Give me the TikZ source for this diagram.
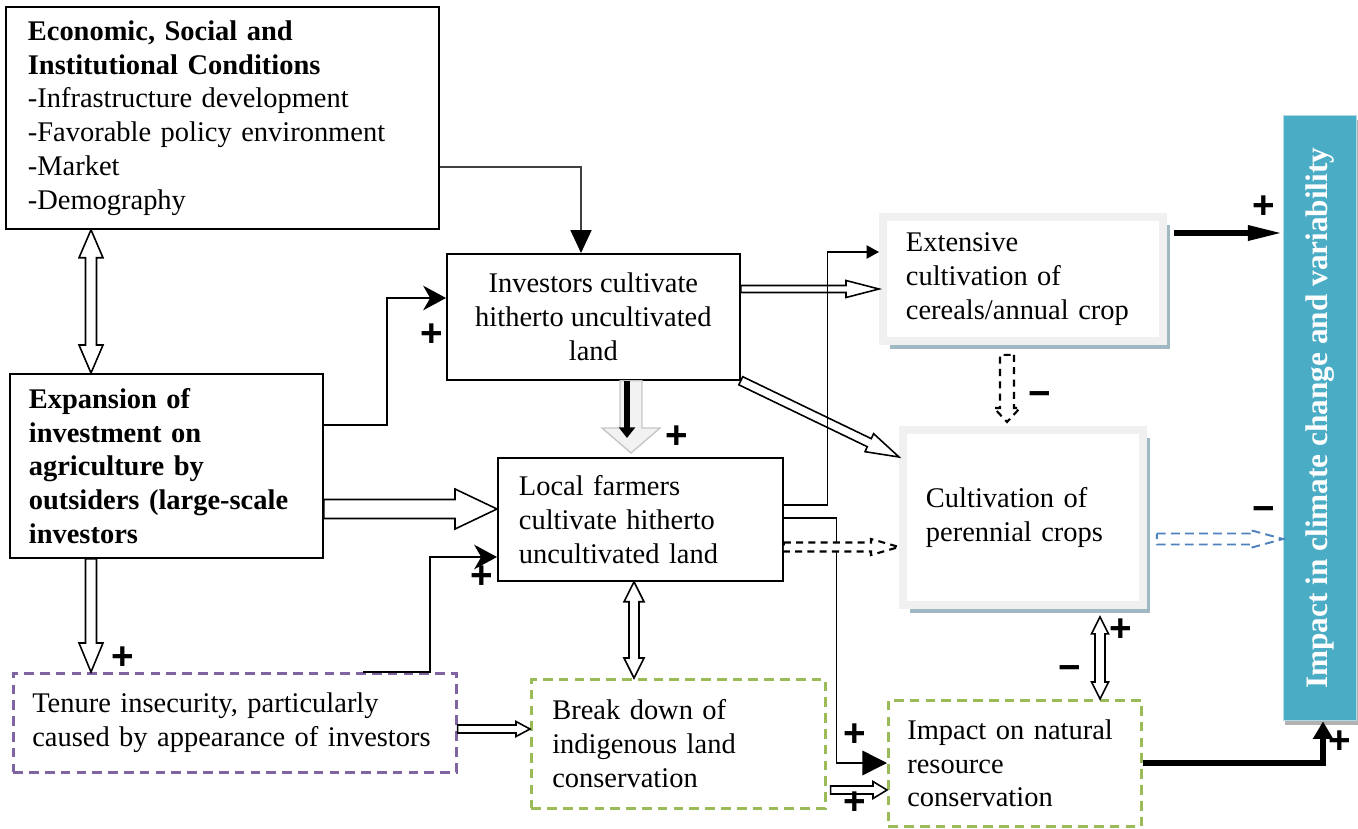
\documentclass[tikz,border=0pt]{standalone}
\usepackage{fontspec}
\setmainfont{Liberation Serif}
\newfontfamily\signfont{Liberation Sans}
\usetikzlibrary{positioning, arrows.meta, calc, shadows}
\definecolor{TenureColor}{RGB}{128,100,162}
\definecolor{ConserveColor}{RGB}{155,187,89}
\definecolor{BandColor}{RGB}{240,240,240}
\definecolor{ShadeColor}{RGB}{160,184,194}
\definecolor{ImpactColor}{RGB}{75,172,198}
\definecolor{ImpactEdge}{RGB}{175,218,230}
\definecolor{DashBlue}{RGB}{79,129,189}
\newlength{\pxu}\setlength{\pxu}{0.02cm}
\newcommand{\boxfont}{\fontsize{16.2}{19.2}\selectfont}
\tikzstyle{box} = [draw, line width=1pt, fill=white, inner sep=0pt, font=\boxfont]
\tikzstyle{dashbox} = [box, dash pattern=on 5.5pt off 3.5pt, line width=1.5pt]
\tikzstyle{shadebox} = [draw=BandColor, line width=4.5pt, fill=white, inner sep=0pt, font=\boxfont, drop shadow={shadow xshift=4pt, shadow yshift=-4.5pt, fill=ShadeColor, opacity=1}]
\tikzstyle{impactbar} = [fill=ImpactColor, draw=ImpactEdge, line width=0.8pt, inner sep=0pt, text=white, font=\fontsize{17.8}{20}\selectfont\bfseries, drop shadow={shadow xshift=1pt, shadow yshift=-2.5pt, fill=gray!60, opacity=1}]
\tikzstyle{sign} = [inner sep=0pt, font=\signfont\fontsize{22}{22}\selectfont\bfseries]
\tikzstyle{hollow} = [draw, fill=white, line width=0.9pt, line join=miter]
\tikzstyle{dashhollow} = [hollow, line width=1.2pt, dash pattern=on 4pt off 3pt]
\tikzstyle{bluehollow} = [hollow, draw=DashBlue, line width=1.1pt, dash pattern=on 5pt off 3pt]
\tikzstyle{link} = [line width=0.9pt, -{Stealth[length=13pt, width=14pt, inset=4pt]}]
\tikzstyle{thinlink} = [line width=0.6pt, black!75]
\tikzstyle{heavylink} = [line width=3.4pt, line join=miter]
% block arrow: [style] {from} {to} {shaft half} {head half} {head length}, sizes in px
\newcommand{\fatarrow}[6][hollow]{%
  \coordinate (fa-s) at #2;
  \coordinate (fa-t) at #3;
  \coordinate (fa-h) at ($(fa-t)!#6*0.5691pt!(fa-s)$);
  \path[#1] ($(fa-s)!#4*0.5691pt!90:(fa-t)$) -- ($(fa-h)!#4*0.5691pt!90:(fa-t)$)
    -- ($(fa-h)!#5*0.5691pt!90:(fa-t)$) -- (fa-t) -- ($(fa-h)!#5*0.5691pt!-90:(fa-t)$)
    -- ($(fa-h)!#4*0.5691pt!-90:(fa-t)$) -- ($(fa-s)!#4*0.5691pt!-90:(fa-t)$) -- cycle;
}
\newcommand{\fatdarrow}[6][hollow]{%
  \coordinate (fa-s) at #2;
  \coordinate (fa-t) at #3;
  \coordinate (fa-h) at ($(fa-t)!#6*0.5691pt!(fa-s)$);
  \coordinate (fa-g) at ($(fa-s)!#6*0.5691pt!(fa-t)$);
  \path[#1] (fa-s) -- ($(fa-g)!#5*0.5691pt!90:(fa-t)$) -- ($(fa-g)!#4*0.5691pt!90:(fa-t)$)
    -- ($(fa-h)!#4*0.5691pt!90:(fa-t)$) -- ($(fa-h)!#5*0.5691pt!90:(fa-t)$) -- (fa-t)
    -- ($(fa-h)!#5*0.5691pt!-90:(fa-t)$) -- ($(fa-h)!#4*0.5691pt!-90:(fa-t)$)
    -- ($(fa-g)!#4*0.5691pt!-90:(fa-t)$) -- ($(fa-g)!#5*0.5691pt!-90:(fa-t)$) -- cycle;
}

\begin{document}
\begin{tikzpicture}[x=0.02cm, y=-0.02cm]
    \useasboundingbox (0,0) rectangle (1358,828);

    % Conditions and expansion
    \node[box, anchor=north west, minimum width=433\pxu, minimum height=222\pxu, text width=389\pxu, align=left] (econ) at (5,6)
        {\textbf{Economic, Social and}\\\textbf{Institutional Conditions}\\-Infrastructure development\\-Favorable policy environment\\-Market\\-Demography};
    \node[box, anchor=north west, minimum width=313\pxu, minimum height=184\pxu, text width=275\pxu, align=left, font=\boxfont\bfseries] (expand) at (9,373)
        {Expansion of\\investment on\\agriculture by\\outsiders (large-scale\\investors};

    % Cultivation boxes
    \node[box, anchor=north west, minimum width=293\pxu, minimum height=126\pxu, align=center] (invest) at (446,253)
        {Investors cultivate\\hitherto uncultivated\\land};
    \node[box, anchor=north west, minimum width=285\pxu, minimum height=123\pxu, text width=243\pxu, align=left] (local) at (497,457)
        {Local farmers\\cultivate hitherto\\uncultivated land};
    \node[shadebox, anchor=north west, minimum width=280\pxu, minimum height=124\pxu, text width=234\pxu, align=left] (extensive) at (879,213)
        {Extensive\\cultivation of\\cereals/annual crop};
    \node[shadebox, anchor=north west, minimum width=240\pxu, minimum height=175\pxu, text width=194\pxu, align=left] (perennial) at (899,426)
        {Cultivation of\\perennial crops};

    % Tenure and conservation
    \node[dashbox, draw=TenureColor, anchor=north west, minimum width=443\pxu, minimum height=99\pxu, text width=405\pxu, align=left] (tenure) at (12,672)
        {Tenure insecurity, particularly\\caused by appearance of investors};
    \node[dashbox, draw=ConserveColor, anchor=north west, minimum width=294\pxu, minimum height=129\pxu, text width=252\pxu, align=left] (breakdown) at (530,678)
        {Break down of\\indigenous land\\conservation};
    \node[dashbox, draw=ConserveColor, anchor=north west, minimum width=253\pxu, minimum height=126\pxu, text width=215\pxu, align=left] (natural) at (887,699)
        {Impact on natural\\resource\\conservation};

    % Climate bar
    \node[impactbar, anchor=north west, minimum width=73\pxu, minimum height=605\pxu] (impact) at (1283,115)
        {\rotatebox{90}{Impact in climate change and variability}};

    % Left column
    \fatdarrow{(econ.south -| 91,0)}{(expand.north -| 91,0)}{5.5}{12}{28}
    \fatarrow{(expand.south -| 91,0)}{(tenure.north -| 91,0)}{5.5}{12}{29}
    \node[sign] (p1) at (123,658) {+};
    \draw[thinlink, -{Triangle[length=13pt, width=12pt, color=black]}] (econ.east |- 0,167) -| (invest.north -| 581,0);
    \draw[link] (expand.east |- 0,425) -- ++(63,0) |- (invest.west |- 0,298);
    \node[sign] (p2) at (432,335) {+};
    \fatarrow{(expand.east |- 0,509)}{(local.west |- 0,509)}{9.5}{20}{42}
    \draw[link] (tenure.north -| 363,0) -- ++(67,0) |- (local.west |- 0,557);
    \node[sign] (p3) at (482,577) {+};
    \fatarrow{(tenure.east |- 0,729)}{(breakdown.west |- 0,729)}{4}{7.5}{14}

    % Investors to local farmers
    \fatarrow[draw=gray!45, fill=gray!10, line width=0.8pt]{(invest.south -| 631,0)}{($(local.north -| 631,0)+(0,-4)$)}{11}{29}{25}
    \draw[line width=3.6pt, -{Triangle[length=6pt, width=9pt]}] (invest.south -| 627,0) -- ($(local.north -| 627,0)+(0,-19)$);
    \node[sign] (p4) at (677,437) {+};
    \fatdarrow{(local.south -| 634,0)}{(breakdown.north -| 634,0)}{5}{10}{20}

    % Towards cultivation types
    \fatarrow{(invest.east |- 0,289)}{(extensive.west |- 0,289)}{3.5}{8.5}{33}
    \fatarrow{(invest.south east)}{(perennial.west |- 0,457)}{4.5}{10}{33}
    \draw[line width=0.8pt, -{Triangle[length=7pt, width=7.5pt]}] (local.east |- 0,505) -- ++(44,0) |- (extensive.west |- 0,252);
    \draw[line width=0.8pt, -{Triangle[length=14pt, width=14pt]}] (local.east |- 0,518) -- ++(53,0) |- (natural.west |- 0,763);
    \node[sign] (p5) at (855,735) {+};
    \fatarrow[dashhollow]{(local.east |- 0,547)}{(perennial.west |- 0,547)}{4.5}{8}{28}
    \fatarrow[dashhollow]{($(extensive.south -| 1007,0)+(0,10)$)}{($(perennial.north -| 1007,0)+(0,-4)$)}{7}{13}{14}
    \node[sign] (m1) at (1040,399) {−};
    \fatarrow{($(breakdown.east |- 0,790)+(4,0)$)}{(natural.west |- 0,790)}{4}{8.5}{14}
    \node[sign] (p6) at (855,803) {+};
    \fatdarrow{($(perennial.south -| 1100,0)+(0,8)$)}{(natural.north -| 1100,0)}{5}{8.5}{17}
    \node[sign] (p7) at (1121,630) {+};
    \node[sign] (m2) at (1070,673) {−};

    % Into the climate bar
    \draw[heavylink, -{Triangle[length=20pt, width=8pt]}] ($(extensive.east |- 0,233)+(7,0)$) -- (impact.west |- 0,233);
    \node[sign] (p8) at (1264,207) {+};
    \fatarrow[bluehollow]{($(perennial.east |- 0,539)+(10,0)$)}{(impact.west |- 0,539)}{5.5}{9}{33}
    \node[sign] (m3) at (1264,514) {−};
    \draw[heavylink, -{Triangle[length=10pt, width=11pt]}] (natural.east |- 0,763) -| (impact.south -| 1323,0);
    \node[sign] (p9) at (1340,742) {+};
\end{tikzpicture}
\end{document}
